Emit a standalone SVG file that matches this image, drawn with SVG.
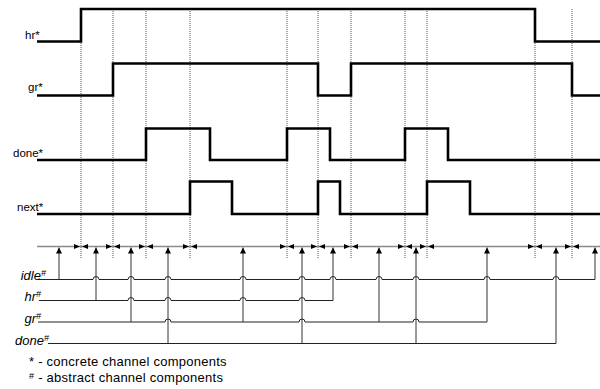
<svg xmlns="http://www.w3.org/2000/svg" xmlns:xlink="http://www.w3.org/1999/xlink" width="600" height="389" viewBox="0 0 600 389">
  <style>
    .sig { fill: none; stroke: #000; stroke-width: 2.6; stroke-linejoin: miter; }
    .grid { fill: none; stroke: #555; stroke-width: 1; stroke-dasharray: 1 1; }
    .axis { fill: none; stroke: #8a8a8a; stroke-width: 1.6; }
    .chan { fill: none; stroke: #222; stroke-width: 1; }
    .link { fill: none; stroke: #333; stroke-width: 1; marker-end: url(#up); }
    .lbl { font-family: "Liberation Sans", Arial, sans-serif; font-size: 11.5px; fill: #000; }
    .abs { font-family: "Liberation Sans", Arial, sans-serif; font-size: 13px; font-style: italic; fill: #000; }
    .note { font-family: "Liberation Sans", Arial, sans-serif; font-size: 13px; letter-spacing: 0.25px; fill: #000; }
    .sup { font-size: 9px; }
  </style>
  <defs>
    <marker id="up" viewBox="0 0 10 10" refX="10" refY="5" markerUnits="userSpaceOnUse" markerWidth="7" markerHeight="6" orient="auto">
      <path d="M0,0 L10,5 L0,10 z" fill="#000"/>
    </marker>
    <!-- pair of arrowheads pointing at a time mark from both sides -->
    <path id="tick" d="M-7,-2.5 L-1,0 L-7,2.5 z M7,-2.5 L1,0 L7,2.5 z" fill="#000"/>
  </defs>

  <!-- time marks -->
  <g id="time-marks" class="grid">
    <path d="M81 9V258M113 9V258M146 9V258M190 9V258M287 9V258M318 9V258M351 9V258M405 9V258M427 9V258M535 9V258M572 9V258"/>
  </g>

  <!-- concrete channel waveforms -->
  <g id="hr-star">
    <path class="sig" d="M37 41.5H81V9H535V41.5H600"/>
    <text class="lbl" x="25" y="38.5">hr*</text>
  </g>
  <g id="gr-star">
    <path class="sig" d="M37 95.5H113V63.5H318V95.5H351V63.5H572V95.5H600"/>
    <text class="lbl" x="28" y="91">gr*</text>
  </g>
  <g id="done-star">
    <path class="sig" d="M37 160H146V128.5H210V160H287V128.5H330V160H405V128.5H448V160H600"/>
    <text class="lbl" x="13" y="156.5">done*</text>
  </g>
  <g id="next-star">
    <path class="sig" d="M37 214H190V181.5H232V214H318V181.5H340V214H427V181.5H470V214H600"/>
    <text class="lbl" x="17" y="210.5">next*</text>
  </g>

  <!-- time axis -->
  <g id="axis">
    <path class="axis" d="M37 246.5H600"/>
    <use xlink:href="#tick" x="81" y="246.5"/>
    <use xlink:href="#tick" x="113" y="246.5"/>
    <use xlink:href="#tick" x="146" y="246.5"/>
    <use xlink:href="#tick" x="190" y="246.5"/>
    <use xlink:href="#tick" x="287" y="246.5"/>
    <use xlink:href="#tick" x="318" y="246.5"/>
    <use xlink:href="#tick" x="351" y="246.5"/>
    <use xlink:href="#tick" x="405" y="246.5"/>
    <use xlink:href="#tick" x="427" y="246.5"/>
    <use xlink:href="#tick" x="535" y="246.5"/>
    <use xlink:href="#tick" x="572" y="246.5"/>
  </g>

  <!-- abstract channel lines (hop over crossing links) -->
  <g id="idle-abs">
    <path class="chan" d="M38 279.5H93a3 3 0 0 1 6 0H128a3 3 0 0 1 6 0H165a3 3 0 0 1 6 0H240a3 3 0 0 1 6 0H299a3 3 0 0 1 6 0H330a3 3 0 0 1 6 0H376a3 3 0 0 1 6 0H413a3 3 0 0 1 6 0H484a3 3 0 0 1 6 0H553a3 3 0 0 1 6 0H595"/>
    <text class="abs" x="46" y="279.5" text-anchor="end">idle<tspan class="sup" dy="-4">#</tspan></text>
  </g>
  <g id="hr-abs">
    <path class="chan" d="M39 300.5H128a3 3 0 0 1 6 0H165a3 3 0 0 1 6 0H240a3 3 0 0 1 6 0H299a3 3 0 0 1 6 0H333"/>
    <text class="abs" x="41" y="301" text-anchor="end">hr<tspan class="sup" dy="-4">#</tspan></text>
  </g>
  <g id="gr-abs">
    <path class="chan" d="M38 322H165a3 3 0 0 1 6 0H299a3 3 0 0 1 6 0H413a3 3 0 0 1 6 0H487"/>
    <text class="abs" x="41" y="323" text-anchor="end">gr<tspan class="sup" dy="-4">#</tspan></text>
  </g>
  <g id="done-abs">
    <path class="chan" d="M48 343.5H556"/>
    <text class="abs" x="49" y="345" text-anchor="end">done<tspan class="sup" dy="-4">#</tspan></text>
  </g>

  <!-- links from abstract channels to the time axis -->
  <g id="connectors">
    <path class="link" d="M59 279.5V247.5"/>
    <path class="link" d="M96 300.5V247.5"/>
    <path class="link" d="M131 322V247.5"/>
    <path class="link" d="M168 343.5V247.5"/>
    <path class="link" d="M243 322V247.5"/>
    <path class="link" d="M302 343.5V247.5"/>
    <path class="link" d="M333 300.5V247.5"/>
    <path class="link" d="M379 322V247.5"/>
    <path class="link" d="M416 343.5V247.5"/>
    <path class="link" d="M487 322V247.5"/>
    <path class="link" d="M556 343.5V247.5"/>
    <path class="link" d="M595 279.5V247.5"/>
  </g>

  <!-- legend -->
  <g id="legend">
    <text class="note" x="29" y="366">* - concrete channel components</text>
    <text class="note" x="29" y="382"><tspan class="sup" dy="-3">#</tspan><tspan dy="3"> - abstract channel components</tspan></text>
  </g>
</svg>
